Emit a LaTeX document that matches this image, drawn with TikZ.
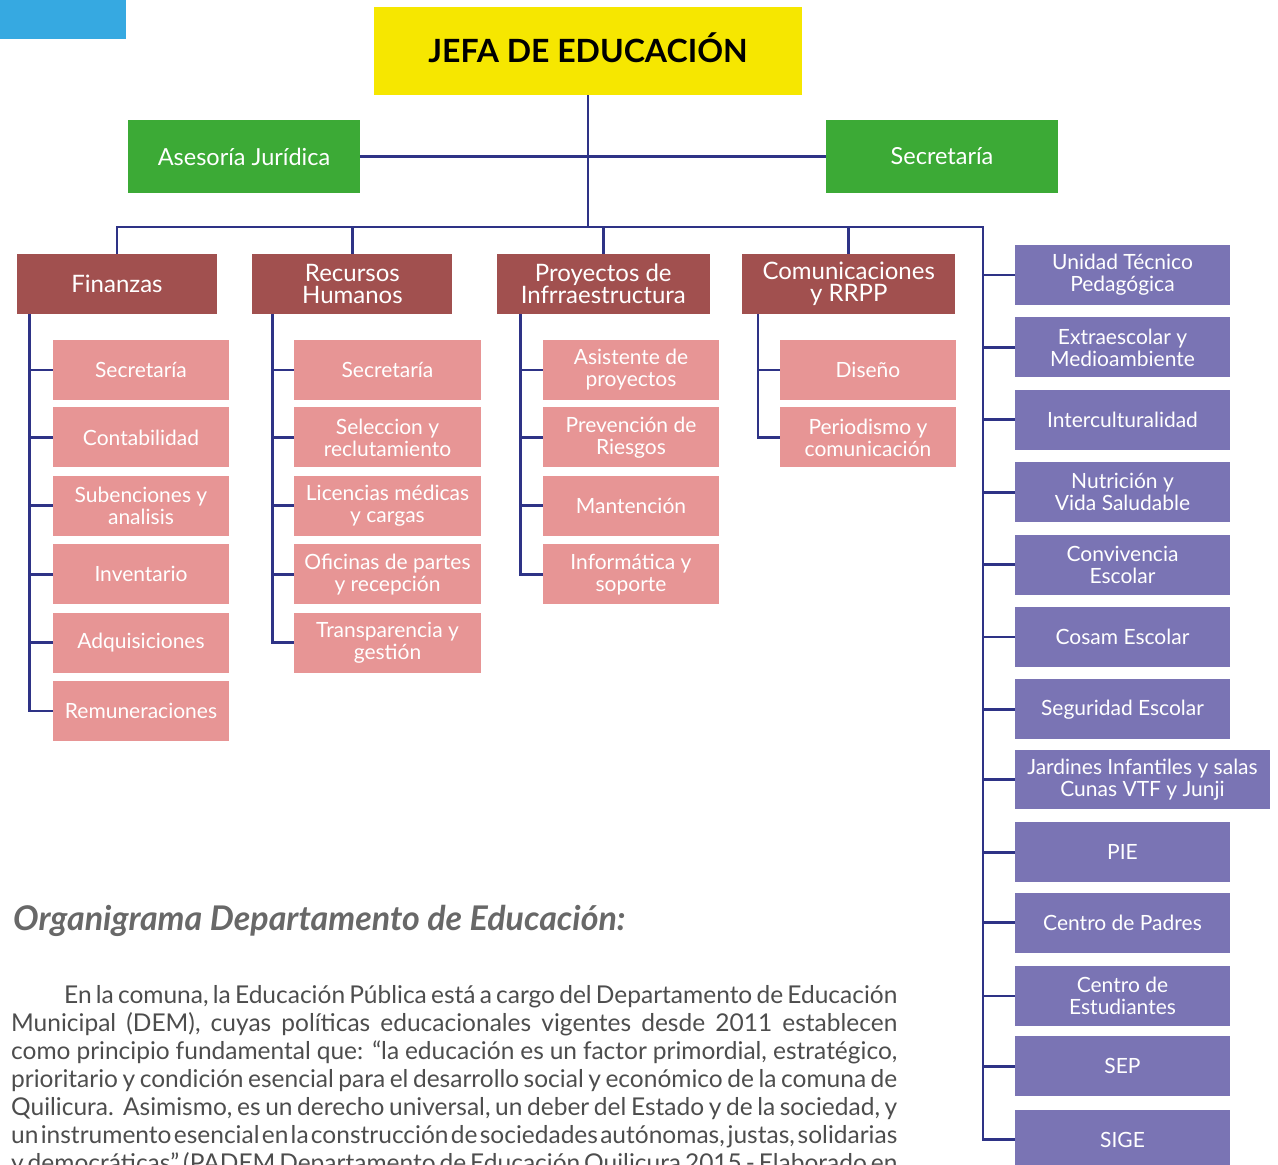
\documentclass[tikz,border=0pt]{standalone}
\usepackage{fontspec}
\setmainfont{Lato}
\usepackage{tikz}
\usetikzlibrary{positioning}

\definecolor{celeste}{HTML}{36A9E1}
\definecolor{amarillo}{HTML}{F6E700}
\definecolor{verde}{HTML}{3CAA36}
\definecolor{azul}{HTML}{2E3386}
\definecolor{cafe}{HTML}{A1504F}
\definecolor{rosa}{HTML}{E79595}
\definecolor{morado}{HTML}{7A74B4}
\definecolor{gris}{HTML}{4D4D4D}

\begin{document}
\begin{tikzpicture}[x=1pt, y=-1pt,
	conector/.style={draw=azul, line width=2.8pt},
	caja/.style={rectangle, inner sep=0pt, align=center, text=white},
	jefe/.style={caja, fill=amarillo, text=black, minimum width=428pt, minimum height=88pt, text height=23pt, text depth=0pt, font=\fontsize{32}{32}\selectfont\bfseries},
	asesor/.style={caja, fill=verde, minimum width=232pt, minimum height=73pt, font=\fontsize{23.5}{24}\selectfont},
	area/.style={caja, fill=cafe, minimum height=60pt, font=\fontsize{24}{22}\selectfont},
	sub/.style={caja, fill=rosa, minimum width=176pt, minimum height=60pt, font=\fontsize{21}{22}\selectfont},
	unidad/.style={caja, fill=morado, minimum width=215pt, minimum height=60pt, font=\fontsize{21}{22}\selectfont}]
	\useasboundingbox (0,0) rectangle (1278,1165);
	\clip (0,0) rectangle (1278,1165);
	\fill[celeste] (0,0) rectangle (126,39);

	% cabeza y asesorias
	\node[jefe] (jefa) at (588,51) {JEFA DE EDUCACIÓN};
	\node[asesor] (asesoria) at (244,156.5) {Asesoría Jurídica};
	\node[asesor] (secre) at (942,156.5) {Secretaría};

	% areas
	\node[area, minimum width=200pt] (finanzas) at (117,284) {Finanzas};
	\node[area, minimum width=200pt, right=35pt of finanzas] (rrhh) {Recursos\\Humanos};
	\node[area, minimum width=213pt, right=44pt of rrhh] (proyectos) {Proyectos de\\Infrraestructura};
	\node[area, minimum width=213pt, right=32pt of proyectos] (comunic) {Comunicaciones\\y RRPP};

	% finanzas
	\node[sub] (fsecre) at (141,370) {Secretaría};
	\node[sub, below=7pt of fsecre] (fconta) {Contabilidad};
	\node[sub, below=8pt of fconta] (fsuben) {Subenciones y\\analisis};
	\node[sub, below=8pt of fsuben] (finven) {Inventario};
	\node[sub, below=8pt of finven] (fadqui) {Adquisiciones};
	\node[sub, below=8pt of fadqui] (fremu) {Remuneraciones};

	% recursos humanos
	\node[sub, minimum width=187pt] (rsecre) at (387.5,370) {Secretaría};
	\node[sub, minimum width=187pt, below=7pt of rsecre] (rselec) {Seleccion y\\reclutamiento};
	\node[sub, minimum width=187pt, below=8pt of rselec] (rlicen) {Licencias médicas\\y cargas};
	\node[sub, minimum width=187pt, below=8pt of rlicen] (rofici) {Oficinas de partes\\y recepción};
	\node[sub, minimum width=187pt, below=8pt of rofici] (rtrans) {Transparencia y\\gestión};

	% proyectos
	\node[sub] (pasist) at (631,370) {Asistente de\\proyectos};
	\node[sub, below=7pt of pasist] (pprev) {Prevención de\\Riesgos};
	\node[sub, below=8pt of pprev] (pmant) {Mantención};
	\node[sub, below=8pt of pmant] (pinfo) {Informática y\\soporte};

	% comunicaciones
	\node[sub] (cdise) at (868,370) {Diseño};
	\node[sub, below=7pt of cdise] (cperio) {Periodismo y\\comunicación};

	% unidades
	\node[unidad] (utp) at (1122.5,275) {Unidad Técnico\\Pedagógica};
	\node[unidad, below=12pt of utp] (extra) {Extraescolar y\\Medioambiente};
	\node[unidad, below=12pt of extra] (inter) {Interculturalidad};
	\node[unidad, below=12pt of inter] (nutri) {Nutrición y\\Vida Saludable};
	\node[unidad, below=12pt of nutri] (convi) {Convivencia\\Escolar};
	\node[unidad, below=12pt of convi] (cosam) {Cosam Escolar};
	\node[unidad, below=12pt of cosam] (segur) {Seguridad Escolar};
	\node[unidad, minimum width=255pt, minimum height=59pt, below=10pt of segur.south west, anchor=north west] (jardin) {Jardines Infantiles y salas\\Cunas VTF y Junji};
	\node[unidad, below=13pt of jardin.south west, anchor=north west] (pie) {PIE};
	\node[unidad, below=10pt of pie] (padres) {Centro de Padres};
	\node[unidad, below=13pt of padres] (estud) {Centro de\\Estudiantes};
	\node[unidad, below=10pt of estud] (sep) {SEP};
	\node[unidad, below=13pt of sep] (sige) {SIGE};

	% conectores
	\coordinate (tronco) at (983,227);
	\draw[conector] (jefa.south) -- (jefa.south |- tronco);
	\draw[conector] (asesoria.east) -- (secre.west);
	\draw[conector] (finanzas.north) |- (tronco) |- (sige.west);
	\draw[conector] (rrhh.north) -- (rrhh.north |- tronco);
	\draw[conector] (proyectos.north) -- (proyectos.north |- tronco);
	\draw[conector] (comunic.north) -- (comunic.north |- tronco);
	\draw[conector] ([xshift=13pt]finanzas.south west) |- (fsecre.west)
		([xshift=13pt]finanzas.south west) |- (fconta.west)
		([xshift=13pt]finanzas.south west) |- (fsuben.west)
		([xshift=13pt]finanzas.south west) |- (finven.west)
		([xshift=13pt]finanzas.south west) |- (fadqui.west)
		([xshift=13pt]finanzas.south west) |- (fremu.west);
	\draw[conector] ([xshift=20pt]rrhh.south west) |- (rsecre.west)
		([xshift=20pt]rrhh.south west) |- (rselec.west)
		([xshift=20pt]rrhh.south west) |- (rlicen.west)
		([xshift=20pt]rrhh.south west) |- (rofici.west)
		([xshift=20pt]rrhh.south west) |- (rtrans.west);
	\draw[conector] ([xshift=24pt]proyectos.south west) |- (pasist.west)
		([xshift=24pt]proyectos.south west) |- (pprev.west)
		([xshift=24pt]proyectos.south west) |- (pmant.west)
		([xshift=24pt]proyectos.south west) |- (pinfo.west);
	\draw[conector] ([xshift=16pt]comunic.south west) |- (cdise.west)
		([xshift=16pt]comunic.south west) |- (cperio.west);
	\draw[conector] (tronco) |- (utp.west) (tronco) |- (extra.west) (tronco) |- (inter.west)
		(tronco) |- (nutri.west) (tronco) |- (convi.west) (tronco) |- (cosam.west)
		(tronco) |- (segur.west) (tronco) |- (jardin.west) (tronco) |- (pie.west)
		(tronco) |- (padres.west) (tronco) |- (estud.west) (tronco) |- (sep.west);

	% texto
	\node[anchor=base west, inner sep=0pt, text=gris!85, font=\fontsize{34}{34}\selectfont\bfseries\itshape] (titulo) at (13,930) {Organigrama Departamento de Educación:};
	\node[anchor=base west, inner sep=0pt, text width=886pt, align=justify, text=gris, font=\fontsize{24.5}{28}\selectfont] (parrafo) at (11,1003) {\parfillskip=0pt
		\spaceskip=0.2em plus 0.3em minus 0.12em
		\hspace*{53pt}En la comuna, la Educación Pública está a cargo del Departamento de Educación\linebreak
		Municipal (DEM), cuyas políticas educacionales vigentes desde 2011 establecen\linebreak
		como principio fundamental que: “la educación es un factor primordial, estratégico,\linebreak
		prioritario y condición esencial para el desarrollo social y económico de la comuna de\linebreak
		Quilicura.\ \ Asimismo, es un derecho universal, un deber del Estado y de la sociedad, y\linebreak
		un instrumento esencial en la construcción de sociedades autónomas, justas, solidarias\linebreak
		y democráticas” (PADEM Departamento de Educación Quilicura 2015 - Elaborado en};
\end{tikzpicture}
\end{document}
